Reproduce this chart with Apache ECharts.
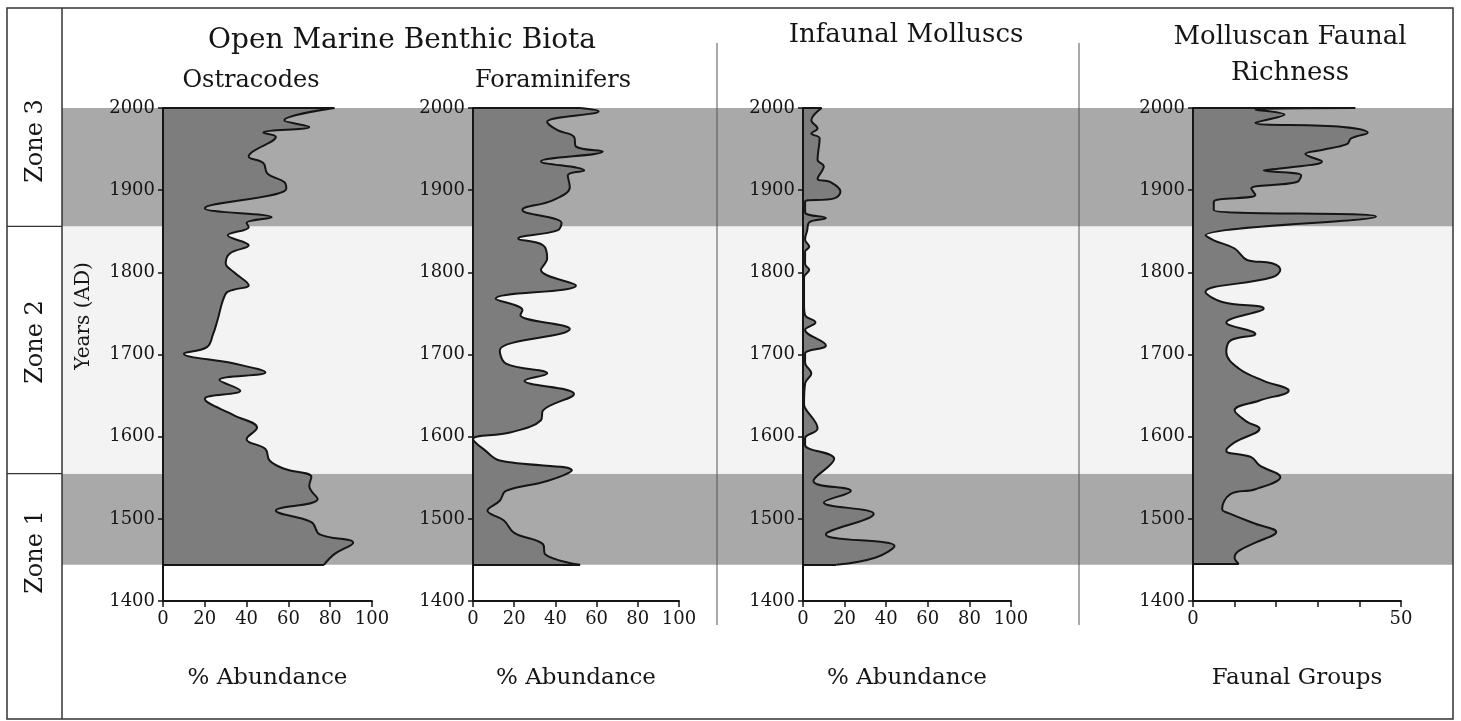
<!DOCTYPE html>
<html>
<head>
<meta charset="utf-8">
<script src="https://cdn.jsdelivr.net/npm/echarts@6/dist/echarts.min.js"></script>
<style>
html, body { margin: 0; padding: 0; background: #fff; }
#main { width: 1461px; height: 721px; }
</style>
</head>
<body>
<div id="main"></div>
<script>
// year categories for the depth axis (bottom = 1400, top = 2000)
var years = [];
for (var y = 1400; y <= 2000; y++) years.push(String(y));

// zone limits (years AD)
var zone1 = [1444, 1555];
var zone2 = [1555, 1856];
var zone3 = [1856, 2000];

// Ostracodes, % abundance
var ostYears = [2000, 1985, 1977, 1970, 1965, 1947, 1941, 1933, 1920, 1910, 1902, 1878, 1867, 1860, 1855, 1845, 1833, 1823, 1811, 1800, 1784, 1779, 1774, 1741, 1725, 1709, 1701, 1689, 1678, 1669, 1656, 1646, 1626, 1611, 1597, 1585, 1571, 1561, 1551, 1540, 1524, 1510, 1496, 1481, 1471, 1457, 1444];
var ostValues = [82, 58, 70, 48, 54, 43, 41, 48, 50, 58, 59, 20, 52, 40, 41, 31, 41, 32, 30, 34, 41, 34, 30, 26, 24, 21, 10, 34, 49, 27, 37, 20, 34, 45, 40, 49, 51, 58, 71, 70, 74, 54, 71, 75, 91, 82, 77];

// Foraminifers, % abundance
var forYears = [2000, 1996, 1983, 1973, 1965, 1953, 1947, 1935, 1924, 1918, 1904, 1888, 1876, 1860, 1851, 1841, 1833, 1817, 1803, 1784, 1768, 1754, 1748, 1731, 1705, 1689, 1677, 1668, 1652, 1632, 1620, 1605, 1597, 1583, 1571, 1559, 1546, 1534, 1522, 1510, 1498, 1483, 1469, 1457, 1444];
var forValues = [52, 61, 36, 41, 49, 50, 63, 33, 54, 46, 47, 39, 24, 43, 41, 22, 34, 36, 33, 50, 11, 24, 23, 47, 13, 16, 36, 25, 49, 34, 33, 18, 0, 6, 13, 48, 36, 16, 13, 7, 15, 20, 34, 35, 52];

// Infaunal molluscs, % abundance
var infYears = [2000, 1985, 1975, 1969, 1963, 1937, 1929, 1914, 1910, 1898, 1890, 1886, 1873, 1866, 1861, 1851, 1840, 1831, 1825, 1810, 1803, 1794, 1760, 1748, 1739, 1730, 1711, 1701, 1690, 1677, 1665, 1640, 1635, 1610, 1598, 1590, 1573, 1546, 1534, 1520, 1506, 1481, 1467, 1453, 1444];
var infValues = [9, 4, 7, 4, 8, 7, 10, 7, 13, 18, 15, 1, 1, 11, 3, 2, 1, 3, 1, 1, 3, 0.5, 0.5, 1, 6, 1, 11, 1, 1, 4, 1, 0.5, 1, 7, 1, 1, 15, 5, 23, 10, 34, 11, 44, 35, 16];

// Molluscan faunal richness, number of faunal groups
var richYears = [2000, 1998, 1992, 1982, 1977, 1970, 1963, 1956, 1949, 1944, 1935, 1927, 1924, 1918, 1910, 1902, 1894, 1886, 1876, 1868, 1845, 1839, 1829, 1815, 1811, 1803, 1794, 1776, 1764, 1756, 1739, 1725, 1717, 1703, 1683, 1668, 1656, 1644, 1632, 1618, 1610, 1593, 1583, 1575, 1565, 1551, 1536, 1530, 1512, 1506, 1494, 1484, 1471, 1461, 1453, 1445];
var richValues = [39, 15, 22, 15, 36, 42, 38, 37, 31, 27, 31, 22, 17, 26, 25, 14, 15, 5, 5, 44, 3, 5, 10, 13, 19, 21, 19, 3, 7, 17, 8, 15, 9, 8, 11, 17, 23, 16, 10, 13, 16, 10, 8, 14, 16, 21, 15, 9, 7, 9, 15, 20, 15, 11, 10, 11];

var FONT = 'DejaVu Serif';
var INK = '#151515';

var panels = [
  { left: 163, width: 209, max: 100, interval: 20, name: '% Abundance', yrs: ostYears, vals: ostValues },
  { left: 473, width: 206, max: 100, interval: 20, name: '% Abundance', yrs: forYears, vals: forValues },
  { left: 803, width: 208, max: 100, interval: 20, name: '% Abundance', yrs: infYears, vals: infValues },
  { left: 1193, width: 208, max: 50, interval: 10, name: 'Faunal Groups', yrs: richYears, vals: richValues }
];

function every100(idx, v) { return Number(v) % 100 === 0; }

var grid = [{ left: 62, right: 8, top: 108, height: 493 }];
var xAxis = [{ gridIndex: 0, type: 'value', min: 0, max: 1, show: false }];
var yAxis = [{ gridIndex: 0, type: 'category', data: years, boundaryGap: false, show: false }];
var series = [{
  type: 'line', xAxisIndex: 0, yAxisIndex: 0, data: [], z: 0, silent: true,
  markArea: {
    silent: true,
    data: [
      [{ xAxis: 0, yAxis: String(zone1[0]), itemStyle: { color: '#a9a9a9' } }, { xAxis: 1, yAxis: String(zone1[1]) }],
      [{ xAxis: 0, yAxis: String(zone2[0]), itemStyle: { color: '#f3f3f3' } }, { xAxis: 1, yAxis: String(zone2[1]) }],
      [{ xAxis: 0, yAxis: String(zone3[0]), itemStyle: { color: '#a9a9a9' } }, { xAxis: 1, yAxis: String(zone3[1]) }]
    ]
  }
}];

panels.forEach(function (p, i) {
  var g = i + 1;
  var last = p.yrs.length - 1;
  grid.push({ left: p.left, width: p.width, top: 108, height: 493 });
  xAxis.push({
    gridIndex: g, type: 'value', min: 0, max: p.max, interval: p.interval, z: 10,
    axisLine: { show: true, onZero: false, lineStyle: { color: INK, width: 2 } },
    axisTick: { show: true, length: 6, lineStyle: { color: INK, width: 1.5 } },
    splitLine: { show: false },
    axisLabel: {
      fontFamily: FONT, fontSize: 18, color: INK, margin: 9,
      formatter: function (v) { return (p.max === 50 && v !== 0 && v !== 50) ? '' : String(v); }
    },
    name: p.name, nameLocation: 'middle', nameGap: 66,
    nameTextStyle: { fontFamily: FONT, fontSize: 23, color: INK }
  });
  yAxis.push({
    gridIndex: g, type: 'category', data: years, boundaryGap: false, z: 10,
    axisLine: { show: true, onZero: false, lineStyle: { color: INK, width: 2 } },
    axisTick: { show: true, interval: every100, length: 5, lineStyle: { color: INK, width: 1.5 } },
    axisLabel: { interval: every100, fontFamily: FONT, fontSize: 18, color: INK, margin: 8 },
    splitLine: { show: false }
  });
  series.push({
    type: 'line', xAxisIndex: g, yAxisIndex: g, z: 3,
    data: p.vals.map(function (v, k) { return [v, String(p.yrs[k])]; }),
    smooth: 0.4, symbol: 'none', showSymbol: false,
    lineStyle: { color: INK, width: 2 },
    areaStyle: { color: '#7d7d7d', opacity: 1 },
    markLine: {
      silent: true, symbol: 'none', label: { show: false },
      lineStyle: { color: INK, width: 2, type: 'solid' },
      data: [
        [{ coord: [0, String(p.yrs[0])] }, { coord: [p.vals[0], String(p.yrs[0])] }],
        [{ coord: [0, String(p.yrs[last])] }, { coord: [p.vals[last], String(p.yrs[last])] }]
      ]
    }
  });
});

var chart = echarts.init(document.getElementById('main'), null, { renderer: 'canvas' });
chart.setOption({
  animation: false,
  backgroundColor: '#ffffff',
  grid: grid, xAxis: xAxis, yAxis: yAxis, series: series
});

function label(text, x, y, size, rot) {
  return {
    type: 'text', x: x, y: y, rotation: rot || 0, z: 20,
    style: {
      text: text, fontFamily: FONT, fontSize: size, fill: INK,
      align: 'center', verticalAlign: 'middle', textAlign: 'center', textVerticalAlign: 'middle'
    }
  };
}
function line(x1, y1, x2, y2, w, c) {
  return { type: 'line', z: 20, shape: { x1: x1, y1: y1, x2: x2, y2: y2 }, style: { stroke: c || '#333', lineWidth: w || 1.2 } };
}

var yZ12 = chart.convertToPixel({ gridIndex: 0 }, [0, String(zone1[1])])[1];
var yZ23 = chart.convertToPixel({ gridIndex: 0 }, [0, String(zone3[0])])[1];

chart.setOption({
  graphic: [
    { type: 'rect', z: 20, shape: { x: 7, y: 8, width: 1446, height: 711 }, style: { fill: 'none', stroke: '#333', lineWidth: 1.5 } },
    line(62, 8, 62, 719, 1.5),
    line(7, yZ23, 62, yZ23, 1.2),
    line(7, yZ12, 62, yZ12, 1.2),
    line(717, 43, 717, 625, 1, '#555'),
    line(1079, 43, 1079, 625, 1, '#555'),
    label('Zone 3', 36, 141, 24, Math.PI / 2),
    label('Zone 2', 36, 342, 24, Math.PI / 2),
    label('Zone 1', 36, 552, 24, Math.PI / 2),
    label('Years (AD)', 84, 316, 20, Math.PI / 2),
    label('Open Marine Benthic Biota', 402, 41, 28),
    label('Ostracodes', 251, 81, 24),
    label('Foraminifers', 553, 81, 24),
    label('Infaunal Molluscs', 906, 35, 26),
    label('Molluscan Faunal', 1290, 37, 26),
    label('Richness', 1290, 73, 26)
  ]
});
</script>
</body>
</html>
